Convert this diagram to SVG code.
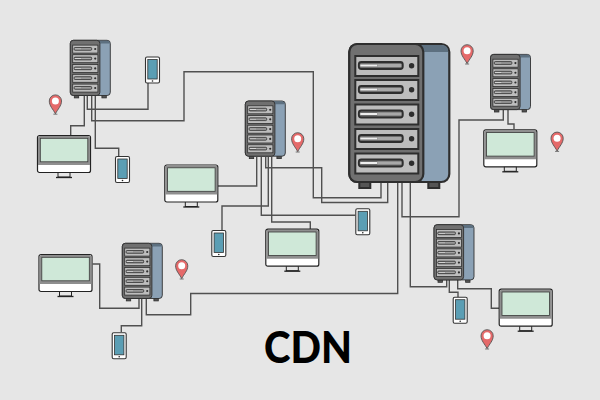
<svg xmlns="http://www.w3.org/2000/svg" width="600" height="400" viewBox="0 0 600 400">
<style>
.c{fill:none;stroke:#505050;stroke-width:1.4}
.t{font-family:Lato,"Open Sans",sans-serif;font-weight:900;font-size:43px;fill:#000}
</style>
<defs>
<g id="slot">
<rect x="0" y="0" width="63" height="20" fill="#bdbdbd" stroke="#2e2e2e" stroke-width="2"/>
<rect x="3.500" y="6" width="44" height="7" rx="2.500" fill="#6e6e6e" stroke="#2e2e2e" stroke-width="1.800"/>
<rect x="5" y="8.500" width="17" height="2" fill="#eeeeee"/>
<rect x="22" y="8" width="24" height="3" fill="#a8a8a8"/>
<circle cx="56.300" cy="9.800" r="2.700" fill="#2e2e2e"/>
</g>
<g id="server">
<rect x="10" y="137" width="11" height="7" fill="#555" stroke="#2e2e2e" stroke-width="2"/>
<rect x="79" y="137" width="11" height="7" fill="#555" stroke="#2e2e2e" stroke-width="2"/>
<rect x="0" y="0" width="100" height="138" rx="8" fill="#8ba1b5" stroke="#2e2e2e" stroke-width="2.200"/>
<path d="M70 1H92q7 0 7 7H70z" fill="#5d7080"/>
<rect x="0" y="0" width="74" height="138" rx="8" fill="#707070" stroke="#2e2e2e" stroke-width="2.200"/>
<use href="#slot" x="6" y="12"/>
<use href="#slot" x="6" y="36"/>
<use href="#slot" x="6" y="60.500"/>
<use href="#slot" x="6" y="85"/>
<use href="#slot" x="6" y="109.500"/>
</g>
<g id="monitor">
<rect x="21" y="37" width="12" height="5" fill="#e6e6e6" stroke="#222" stroke-width="1"/>
<path d="M19 42.500H35" stroke="#222" stroke-width="1.300"/>
<rect x="0.500" y="0.500" width="53" height="37" rx="2" fill="#fff" stroke="#222" stroke-width="1.200"/>
<path d="M1 30V3q0-2 2-2H51q2 0 2 2V30z" fill="#8f8f8f"/>
<rect x="3.300" y="3.300" width="47.500" height="23.500" fill="#cfe8d8" stroke="#3a3a3a" stroke-width="0.800"/>
</g>
<g id="phone">
<rect x="0.500" y="0.500" width="14" height="26" rx="1.500" fill="#fff" stroke="#333" stroke-width="1.100"/>
<rect x="2.800" y="3" width="9.400" height="19.500" fill="#5b9eb4" stroke="#333" stroke-width="0.800"/>
<circle cx="7.500" cy="24.500" r="0.800" fill="#222"/>
</g>
<g id="pin">
<path d="M6.400 19.300C4 14.500 0.300 11.500 0.300 6.500a6.100 6.100 0 0 1 12.200 0C12.500 11.500 8.800 14.500 6.400 19.300z" fill="#e56a6a" stroke="#555" stroke-width="0.900"/>
<circle cx="6.400" cy="6.500" r="3.500" fill="#fff"/>
<path d="M4.400 19.700H8.400" stroke="#555" stroke-width="0.800"/>
</g>
</defs>
<rect width="600" height="400" fill="#e6e6e6"/>
<g id="connectors">
<path class="c" d="M84.300 96V125.700H70.700V135"/>
<path class="c" d="M87.300 96V109.300H148V83"/>
<path class="c" d="M91.700 96V120.700H184V71.700H313.300V197.700H381V183"/>
<path class="c" d="M95.300 96V148.300H118.700V156"/>
<path class="c" d="M256.700 157V186H218"/>
<path class="c" d="M261.300 157V215.300H355.300"/>
<path class="c" d="M268.300 157V206H222V230"/>
<path class="c" d="M265.700 157V167.700H321.700V202.500H387.700V183"/>
<path class="c" d="M271.700 157V222H310.300V229"/>
<path class="c" d="M397.700 183V293.500H190.700V314.700H146.300V298"/>
<path class="c" d="M402 183V216.700H459V120H503.300V110"/>
<path class="c" d="M410.300 183V286.700H446.700V280"/>
<path class="c" d="M508 110V124H514V129"/>
<path class="c" d="M449.300 280V292.300H458V297"/>
<path class="c" d="M457.700 280V288.700H491.300V308.300H499"/>
<path class="c" d="M92.700 264H99.700V308.300H139V298"/>
<path class="c" d="M141.700 298V325.700H121.300V332"/>
</g>
<g id="server-main"><use href="#server" transform="translate(349.300 44)"/></g>
<g id="server-1"><use href="#server" transform="translate(70.300 40.300) scale(.4)"/></g>
<g id="server-2"><use href="#server" transform="translate(245.300 101) scale(.4)"/></g>
<g id="server-3"><use href="#server" transform="translate(122.300 243.300) scale(.4)"/></g>
<g id="server-4"><use href="#server" transform="translate(434 224.700) scale(.4)"/></g>
<g id="server-5"><use href="#server" transform="translate(490.500 54.400) scale(.4)"/></g>
<g id="monitor-1"><use href="#monitor" x="37" y="135"/></g>
<g id="monitor-2"><use href="#monitor" x="164.300" y="164.500"/></g>
<g id="monitor-3"><use href="#monitor" x="265.300" y="228.700"/></g>
<g id="monitor-4"><use href="#monitor" x="38.500" y="254"/></g>
<g id="monitor-5"><use href="#monitor" x="498.700" y="288.700"/></g>
<g id="monitor-6"><use href="#monitor" x="483.300" y="129.300"/></g>
<g id="phone-1"><use href="#phone" x="145" y="56.500"/></g>
<g id="phone-2"><use href="#phone" x="115" y="156"/></g>
<g id="phone-3"><use href="#phone" x="211.300" y="230"/></g>
<g id="phone-4"><use href="#phone" x="355.300" y="208.300"/></g>
<g id="phone-5"><use href="#phone" x="111.700" y="332.300"/></g>
<g id="phone-6"><use href="#phone" x="452.700" y="296.700"/></g>
<g id="pin-1"><use href="#pin" x="49" y="94.500"/></g>
<g id="pin-2"><use href="#pin" x="291.300" y="132.300"/></g>
<g id="pin-3"><use href="#pin" x="175.300" y="259.300"/></g>
<g id="pin-4"><use href="#pin" x="480.700" y="329.300"/></g>
<g id="pin-5"><use href="#pin" x="460.700" y="44.300"/></g>
<g id="pin-6"><use href="#pin" x="550.700" y="131.700"/></g>
<text class="t" x="264" y="363" textLength="88" lengthAdjust="spacingAndGlyphs">CDN</text>
</svg>
